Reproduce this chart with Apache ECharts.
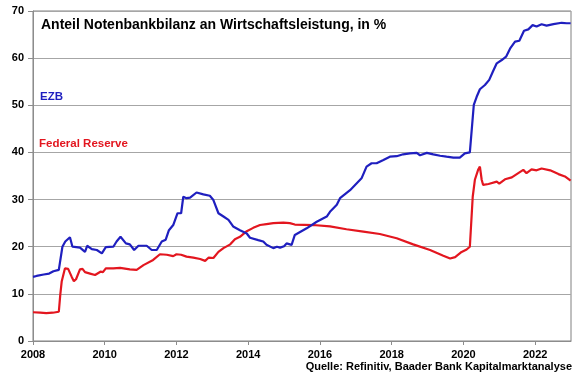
<!DOCTYPE html>
<html>
<head>
<meta charset="utf-8">
<script src="https://cdn.jsdelivr.net/npm/echarts@6/dist/echarts.min.js"></script>
<style>html,body{margin:0;padding:0;background:#fff}#c{width:580px;height:375px}</style>
</head>
<body>
<div id="c"></div>
<script>
const titleText = 'Anteil Notenbankbilanz an Wirtschaftsleistung, in %';
const sourceText = 'Quelle: Refinitiv, Baader Bank Kapitalmarktanalyse';
const seriesNames = ['EZB', 'Federal Reserve'];

const ezbYears = [2008.0,2008.1,2008.3,2008.45,2008.57,2008.72,2008.77,2008.82,2008.9,2009.03,2009.1,2009.31,2009.45,2009.51,2009.64,2009.78,2009.92,2010.03,2010.24,2010.33,2010.44,2010.59,2010.7,2010.82,2010.94,2011.17,2011.31,2011.45,2011.59,2011.7,2011.79,2011.91,2012.03,2012.13,2012.19,2012.28,2012.38,2012.56,2012.75,2012.93,2013.03,2013.17,2013.31,2013.45,2013.58,2013.77,2013.96,2014.05,2014.28,2014.42,2014.51,2014.7,2014.8,2014.89,2015.0,2015.07,2015.21,2015.3,2015.63,2015.91,2016.19,2016.28,2016.47,2016.56,2016.84,2017.16,2017.3,2017.44,2017.58,2017.77,2017.95,2018.14,2018.32,2018.51,2018.7,2018.79,2018.98,2019.16,2019.35,2019.53,2019.72,2019.9,2020.04,2020.18,2020.23,2020.29,2020.37,2020.46,2020.6,2020.72,2020.82,2020.93,2021.07,2021.19,2021.3,2021.44,2021.56,2021.69,2021.81,2021.93,2022.04,2022.18,2022.32,2022.51,2022.74,2022.88,2022.99];
const ezbValues = [13.6,13.8,14.1,14.3,14.8,15.1,15.0,20.0,21.1,22.0,20.0,19.8,18.9,20.2,19.5,19.3,18.6,19.9,20.0,21.1,22.1,20.7,20.5,19.3,20.2,20.2,19.3,19.3,21.1,21.5,23.5,24.6,27.1,27.1,30.6,30.3,30.4,31.5,31.1,30.8,29.9,27.1,26.4,25.7,24.3,23.5,22.8,21.9,21.4,21.1,20.4,19.7,20.0,19.8,20.1,20.7,20.4,22.5,23.9,25.3,26.4,27.4,28.9,30.3,32.0,34.5,37.0,37.7,37.7,38.4,39.1,39.2,39.6,39.8,39.9,39.4,39.9,39.6,39.3,39.1,38.9,38.9,39.8,40.0,40.2,50.1,51.8,53.4,54.3,55.4,57.1,58.9,59.6,60.3,62.0,63.5,63.7,65.8,66.1,67.0,66.7,67.2,66.9,67.2,67.5,67.4,67.4];

const fedYears = [2008.0,2008.2,2008.37,2008.55,2008.72,2008.76,2008.8,2008.89,2008.98,2009.08,2009.14,2009.2,2009.31,2009.38,2009.45,2009.59,2009.73,2009.88,2009.95,2010.03,2010.24,2010.43,2010.7,2010.89,2011.08,2011.35,2011.54,2011.73,2011.91,2012.0,2012.13,2012.28,2012.47,2012.66,2012.8,2012.9,2013.03,2013.17,2013.31,2013.5,2013.63,2013.77,2013.96,2014.14,2014.33,2014.51,2014.7,2014.98,2015.16,2015.3,2015.81,2016.28,2016.74,2017.21,2017.67,2018.14,2018.6,2019.07,2019.44,2019.63,2019.77,2019.95,2020.09,2020.18,2020.26,2020.32,2020.41,2020.46,2020.51,2020.55,2020.7,2020.93,2021.0,2021.16,2021.35,2021.53,2021.67,2021.76,2021.9,2022.04,2022.18,2022.42,2022.65,2022.83,2022.99];
const fedValues = [6.1,6.0,5.9,6.0,6.2,9.8,12.6,15.4,15.3,13.6,12.7,13.1,15.2,15.3,14.6,14.3,14.0,14.7,14.6,15.4,15.4,15.5,15.2,15.1,16.1,17.2,18.4,18.3,18.0,18.4,18.3,17.9,17.7,17.4,17.0,17.7,17.6,18.9,19.7,20.5,21.6,22.1,23.3,24.0,24.6,24.8,25.0,25.1,25.0,24.7,24.6,24.3,23.7,23.2,22.7,21.8,20.5,19.3,18.1,17.5,17.8,18.9,19.4,20.0,30.6,34.2,36.3,37.0,34.2,33.1,33.3,33.8,33.4,34.3,34.7,35.6,36.3,35.6,36.4,36.2,36.6,36.2,35.4,34.9,34.0];

const xTicks = [2008, 2010, 2012, 2014, 2016, 2018, 2020, 2022];
const yTicks = [0, 10, 20, 30, 40, 50, 60, 70];

const font = '"Liberation Sans", Arial, sans-serif';
const blue = '#1f1fbf';
const red = '#e3161f';

const pairs = (xs, ys) => xs.map((x, i) => [x, ys[i]]);

const chart = echarts.init(document.getElementById('c'), null, {renderer: 'canvas'});
chart.setOption({
  animation: false,
  backgroundColor: '#ffffff',
  title: {
    text: titleText, left: 41, top: 18, padding: 0,
    textStyle: {fontFamily: font, fontSize: 14, fontWeight: 'bold', color: '#000'}
  },
  grid: {left: 33, right: 9, top: 11, bottom: 34, show: true, borderColor: '#808080', borderWidth: 1, backgroundColor: 'transparent'},
  xAxis: {
    type: 'value', min: xTicks[0], max: 2023, interval: 2,
    axisLine: {show: true, lineStyle: {color: '#8c8c8c', width: 1}},
    axisTick: {show: true, length: 4, lineStyle: {color: '#8c8c8c'}},
    splitLine: {show: false},
    axisLabel: {
      fontFamily: font, fontSize: 11, fontWeight: 'bold', color: '#000', margin: 8,
      formatter: v => xTicks.includes(v) ? String(v) : '',
      showMaxLabel: false
    }
  },
  yAxis: {
    type: 'value', min: yTicks[0], max: yTicks[yTicks.length - 1], interval: 10,
    axisLine: {show: true, lineStyle: {color: '#8c8c8c', width: 1}},
    axisTick: {show: true, length: 5, lineStyle: {color: '#8c8c8c'}},
    splitLine: {show: true, lineStyle: {color: '#a6a6a6', width: 1}},
    axisLabel: {fontFamily: font, fontSize: 11, fontWeight: 'bold', color: '#000', margin: 9}
  },
  series: [
    {name: seriesNames[0], type: 'line', data: pairs(ezbYears, ezbValues), showSymbol: false, symbol: 'none',
     lineStyle: {color: blue, width: 2.2}, itemStyle: {color: blue}, z: 3},
    {name: seriesNames[1], type: 'line', data: pairs(fedYears, fedValues), showSymbol: false, symbol: 'none',
     lineStyle: {color: red, width: 2.2}, itemStyle: {color: red}, z: 2}
  ],
  graphic: [
    {type: 'text', left: 40, top: 91, style: {text: seriesNames[0], fill: blue, font: 'bold 11.5px ' + font}},
    {type: 'text', left: 39, top: 138, style: {text: seriesNames[1], fill: red, font: 'bold 11.5px ' + font}},
    {type: 'text', right: 8, top: 361, style: {text: sourceText, fill: '#000', font: 'bold 11px ' + font}}
  ]
});
</script>
</body>
</html>
